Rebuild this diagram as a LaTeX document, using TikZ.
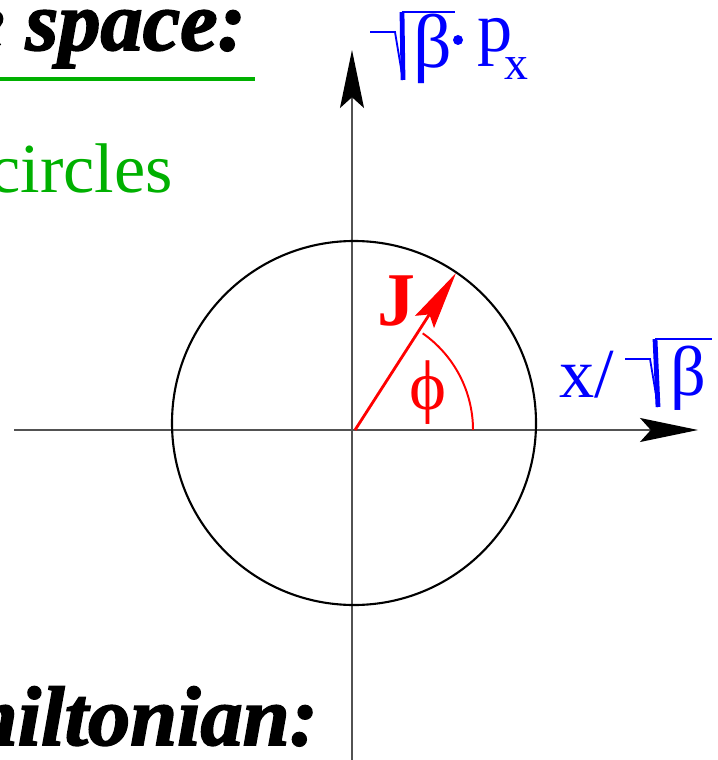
\documentclass[tikz,border=0pt]{standalone}
\usepackage{fontspec}
\setmainfont{Liberation Serif}
\newfontface\heavyface{Liberation Serif Bold Italic}[FakeBold=2]
\usepackage{xcolor}
\usetikzlibrary{arrows.meta}

\definecolor{slidegreen}{RGB}{0,176,0}
\definecolor{slideblue}{RGB}{0,0,255}
\definecolor{slidered}{RGB}{255,0,0}

\begin{document}
\begin{tikzpicture}[
    x=0.025cm, y=-0.025cm,
    heading/.style={font=\fontsize{60}{72}\selectfont\heavyface,
                inner sep=0pt, anchor=base east},
    txt/.style={font=\fontsize{50}{60}\selectfont, inner sep=0pt},
    axis/.style={line width=1.05pt, black!68,
                -{Stealth[length=1.45cm, width=0.6cm, inset=0.27cm, color=black]}},
    orbit/.style={line width=1.5pt, black},
    jarrow/.style={line width=2pt, slidered,
                -{Stealth[length=1.45cm, width=0.56cm, inset=0.22cm]}},
    radthin/.style={line width=1.3pt, slideblue},
    radthick/.style={line width=3.4pt, slideblue}
]
\useasboundingbox (0,0) rectangle (717,760);
\clip (0,0) rectangle (717,760);

% ---------- slide text ----------
\node[heading] (ttl) at (246,50) {e space:};
\coordinate (ulA) at (-5,79);
\coordinate (ulB) at (255,79);
\draw[slidegreen, line width=2.9pt] (ulA) -- (ulB);
\node[txt, slidegreen, anchor=base east] (circ) at (173,193) {circles};
\node[heading] (ham) at (318,745) {miltonian:};

% ---------- axes ----------
\coordinate (O) at (352,430);
\coordinate (xL) at (14,430);
\coordinate (xR) at (698,430);
\coordinate (yB) at (352,765);
\coordinate (yT) at (352,50);
\draw[axis] (xL) -- (xR);
\draw[axis] (yB) -- (yT);

% ---------- orbit, action and angle ----------
\coordinate (C) at (354,423);
\draw[orbit] (C) circle[radius=182];
\coordinate (J0) at (355,430);
\coordinate (J1) at (456,273);
\draw[jarrow] (J0) -- (J1);
\node[txt, slidered, font=\fontsize{54}{64}\selectfont\bfseries, anchor=base]
    (Jlbl) at (396,325) {J};
\coordinate (phiR) at (473,430);
\draw[slidered, line width=1.4pt] (phiR) arc[start angle=0, end angle=-55, radius=118];
\node[txt, slidered] (philbl) at (428,393) {ϕ};

% ---------- vertical axis label ----------
\coordinate (rA1) at (370,32);
\coordinate (rA2) at (395,32);
\coordinate (rA3) at (403,80);
\coordinate (rA4) at (402,12);
\coordinate (rA5) at (455,12);
\draw[radthin] (rA1) -- (rA2) -- (rA3);
\draw[radthick] (rA3) -- (rA4);
\draw[radthin] (rA4) -- (rA5);
\node[txt, slideblue, font=\fontsize{54}{64}\selectfont, anchor=base west]
    (betaA) at (413,68) {β};
\fill[slideblue] (458,40) circle[radius=5];
\node[txt, slideblue, anchor=base west] (pA) at (477,52) {p};
\node[txt, slideblue, font=\fontsize{34}{40}\selectfont, anchor=base west]
    (subA) at (504,80) {x};

% ---------- horizontal axis label ----------
\node[txt, slideblue, anchor=base west] (xB) at (559,397) {x/};
\coordinate (rB1) at (625,359);
\coordinate (rB2) at (650,359);
\coordinate (rB3) at (658,407);
\coordinate (rB4) at (655,339);
\coordinate (rB5) at (712,339);
\draw[radthin] (rB1) -- (rB2) -- (rB3);
\draw[radthick] (rB3) -- (rB4);
\draw[radthin] (rB4) -- (rB5);
\node[txt, slideblue, anchor=base west] (betaB) at (670,395) {β};

\end{tikzpicture}
\end{document}
